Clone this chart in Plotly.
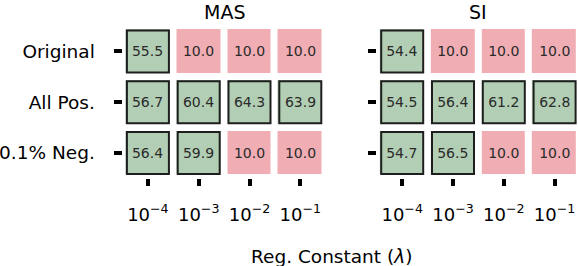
import plotly.graph_objects as go

panels = ["MAS", "SI"]
rows = ["Original", "All Pos.", "0.1% Neg."]
reg_ticks = ["10<sup>−4</sup>", "10<sup>−3</sup>", "10<sup>−2</sup>", "10<sup>−1</sup>"]
mas_values = [
    [55.5, 10.0, 10.0, 10.0],
    [56.7, 60.4, 64.3, 63.9],
    [56.4, 59.9, 10.0, 10.0],
]
si_values = [
    [54.4, 10.0, 10.0, 10.0],
    [54.5, 56.4, 61.2, 62.8],
    [54.7, 56.5, 10.0, 10.0],
]
x_title = "Reg. Constant (<i>λ</i>)"

W, H = 578, 266
GREEN = "#b2cfb5"
PINK = "#f0aeb4"
EDGE = "#1e1e1e"
FONT = "DejaVu Sans"

pitch = 50.8
fig = go.Figure()

x_doms_px = [(122.5, 122.5 + 4 * pitch), (376.8, 376.8 + 4 * pitch)]
y_dom_px = (26.0, 26.0 + 3 * pitch)

for k, (name, vals) in enumerate(zip(panels, [mas_values, si_values])):
    xa = "x" if k == 0 else "x2"
    ya = "y" if k == 0 else "y2"
    z = [[1 if v > 10 else 0 for v in row] for row in vals]
    text = [[f"{v:.1f}" for v in row] for row in vals]
    fig.add_trace(go.Heatmap(
        z=z, x=list(range(4)), y=list(range(3)), text=text,
        texttemplate="%{text}", textfont=dict(size=14, color="#2a2a2a", family=FONT),
        colorscale=[[0, PINK], [1, GREEN]], zmin=0, zmax=1, showscale=False,
        xgap=7, ygap=7, hoverinfo="skip", xaxis=xa, yaxis=ya,
    ))
    half = 21.0 / pitch
    for i, row in enumerate(vals):
        for j, v in enumerate(row):
            if v > 10:
                fig.add_shape(type="rect", xref=xa, yref=ya,
                              x0=j - half, x1=j + half, y0=i - half, y1=i + half,
                              line=dict(color=EDGE, width=2), fillcolor="rgba(0,0,0,0)")
    x0p, x1p = x_doms_px[k]
    rng_end = 3.5
    if x1p > W:
        rng_end = 3.5 - (x1p - W) / pitch
        x1p = W
    axis_x = dict(domain=[x0p / W, x1p / W], range=[-0.5, rng_end],
                  tickvals=list(range(4)), ticktext=reg_ticks,
                  ticks="outside", ticklen=7, tickwidth=4, tickcolor="black",
                  showgrid=False, zeroline=False, showline=False,
                  tickfont=dict(size=18, family=FONT, color="black"),
                  ticklabelstandoff=13)
    axis_y = dict(domain=[1 - y_dom_px[1] / H, 1 - y_dom_px[0] / H], range=[2.5, -0.5],
                  tickvals=list(range(3)), ticktext=rows,
                  ticks="outside", ticklen=8, tickwidth=4, tickcolor="black",
                  showgrid=False, zeroline=False, showline=False,
                  showticklabels=(k == 0),
                  tickfont=dict(size=18.5, family=FONT, color="black"),
                  ticklabelstandoff=15)
    if k == 0:
        fig.update_layout(xaxis=axis_x, yaxis=axis_y)
    else:
        axis_x["anchor"] = "y2"
        axis_y["anchor"] = "x2"
        fig.update_layout(xaxis2=axis_x, yaxis2=axis_y)
    fig.add_annotation(text=name, x=(x_doms_px[k][0] + x_doms_px[k][1]) / 2 / W,
                       y=1 - 12 / H, xref="paper", yref="paper",
                       showarrow=False, font=dict(size=19, family=FONT, color="black"),
                       xanchor="center", yanchor="middle")

fig.add_annotation(text=x_title, x=331 / W, y=1 - 256 / H, xref="paper", yref="paper",
                   showarrow=False, font=dict(size=18.5, family=FONT, color="black"),
                   xanchor="center", yanchor="middle")

fig.update_layout(width=W, height=H, margin=dict(l=0, r=0, t=0, b=0),
                  plot_bgcolor="white", paper_bgcolor="white", showlegend=False)
fig.write_html("out.html", config={"displayModeBar": False, "staticPlot": True},
               post_script="document.body.style.margin='0';document.body.style.overflow='hidden';")
